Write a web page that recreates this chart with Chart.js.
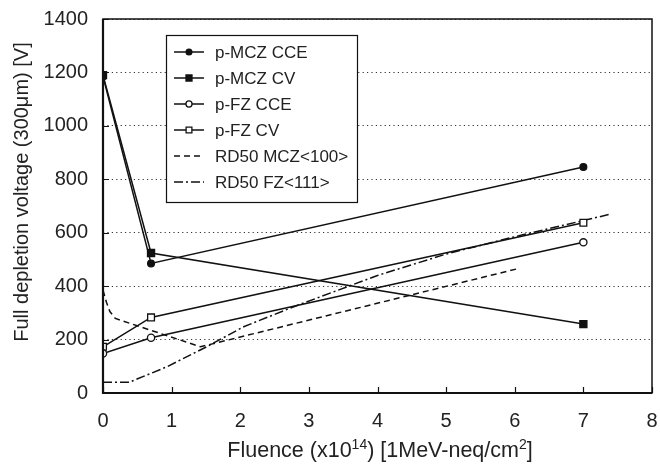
<!DOCTYPE html>
<html>
<head>
<meta charset="utf-8">
<script src="https://cdn.jsdelivr.net/npm/chart.js@4.4.1/dist/chart.umd.min.js"></script>
<style>
  html, body { margin: 0; padding: 0; background: #fff; }
  #wrap { width: 660px; height: 465px; }
</style>
</head>
<body>
<div id="wrap"><canvas id="chart" width="660" height="465"></canvas></div>
<script>
// Data
const fluence = [0, 0.7, 7];
const mczCce = [1185, 485, 846];
const mczCv = [1190, 524, 258];
const fzCce = [148, 207, 564];
const fzCv = [173, 283, 637];

const rd50MczX = [0, 0.05, 0.1, 0.18, 1.42, 6.04];
const rd50MczY = [385, 340, 305, 279, 173, 465];
const rd50FzX = [0, 0.38, 0.93, 1.51, 2.05, 2.8, 4.0, 5.0, 6.0, 7.37];
const rd50FzY = [40, 40, 98, 173, 248, 325, 440, 520, 585, 668];

const xTicks = [0, 1, 2, 3, 4, 5, 6, 7, 8];
const yTicks = [0, 200, 400, 600, 800, 1000, 1200, 1400];

const seriesNames = ['p-MCZ CCE', 'p-MCZ CV', 'p-FZ CCE', 'p-FZ CV', 'RD50 MCZ<100>', 'RD50 FZ<111>'];

const FONT = '"Liberation Sans", Arial, sans-serif';

function pts(xs, ys) {
  return xs.map((x, i) => ({ x: x, y: ys[i] }));
}

const datasets = [
  { label: seriesNames[0], data: pts(fluence, mczCce), pointStyle: 'circle', pointRadius: 3.4, backgroundColor: '#111', borderColor: '#111' },
  { label: seriesNames[1], data: pts(fluence, mczCv), pointStyle: 'rect', pointRadius: 5, backgroundColor: '#111', borderColor: '#111' },
  { label: seriesNames[2], data: pts(fluence, fzCce), pointStyle: 'circle', pointRadius: 3.6, backgroundColor: '#fff', borderColor: '#111' },
  { label: seriesNames[3], data: pts(fluence, fzCv), pointStyle: 'rect', pointRadius: 4.8, backgroundColor: '#fff', borderColor: '#111' },
  { label: seriesNames[4], data: pts(rd50MczX, rd50MczY), pointRadius: 0, borderDash: [6, 4], borderColor: '#111' },
  { label: seriesNames[5], data: pts(rd50FzX, rd50FzY), pointRadius: 0, borderDash: [9, 3, 2, 3], borderColor: '#111' }
].map(d => Object.assign({
  borderWidth: 1.5,
  pointBorderWidth: 1.3,
  showLine: true,
  fill: false,
  tension: 0
}, d));

// frame, inward ticks, axis titles, legend box
const decor = {
  id: 'decor',
  beforeDatasetsDraw(chart) {
    const { ctx, chartArea: a, scales } = chart;
    ctx.save();
    ctx.strokeStyle = '#111';
    ctx.lineWidth = 1.2;
    ctx.beginPath();
    xTicks.forEach(v => {
      const px = Math.round(scales.x.getPixelForValue(v)) + 0.5;
      ctx.moveTo(px, a.bottom);
      ctx.lineTo(px, a.bottom - 6);
    });
    yTicks.forEach(v => {
      const py = Math.round(scales.y.getPixelForValue(v)) + 0.5;
      ctx.moveTo(a.left, py);
      ctx.lineTo(a.left + 6, py);
    });
    ctx.stroke();
    ctx.restore();
  },
  afterDraw(chart) {
    const { ctx, chartArea: a } = chart;
    ctx.save();
    // frame
    ctx.strokeStyle = '#111';
    ctx.lineWidth = 1.5;
    ctx.strokeRect(a.left, a.top, a.right - a.left, a.bottom - a.top);
    ctx.lineWidth = 2.2;
    ctx.beginPath();
    ctx.moveTo(a.left, a.top);
    ctx.lineTo(a.left, a.bottom);
    ctx.lineTo(a.right, a.bottom);
    ctx.stroke();

    // y title
    ctx.fillStyle = '#222';
    ctx.font = '20px ' + FONT;
    ctx.textAlign = 'center';
    ctx.textBaseline = 'middle';
    ctx.save();
    ctx.translate(22, 192);
    ctx.rotate(-Math.PI / 2);
    ctx.fillText('Full depletion voltage (300\u03BCm) [V]', 0, 0);
    ctx.restore();

    // x title with superscripts
    const parts = [
      ['Fluence (x10', false], ['14', true], [') [1MeV-neq/cm', false], ['2', true], [']', false]
    ];
    const big = '21.5px ' + FONT, small = '14px ' + FONT;
    let total = 0;
    parts.forEach(p => { ctx.font = p[1] ? small : big; total += ctx.measureText(p[0]).width; });
    let x = 380 - total / 2;
    const base = 457;
    ctx.textAlign = 'left';
    ctx.textBaseline = 'alphabetic';
    parts.forEach(p => {
      ctx.font = p[1] ? small : big;
      ctx.fillText(p[0], x, p[1] ? base - 8 : base);
      x += ctx.measureText(p[0]).width;
    });

    // legend
    const lx = 166, ly = 35, lw = 191, lh = 167;
    ctx.fillStyle = '#fff';
    ctx.fillRect(lx, ly, lw, lh);
    ctx.strokeStyle = '#111';
    ctx.lineWidth = 1.2;
    ctx.strokeRect(lx + 0.5, ly + 0.5, lw, lh);
    chart.data.datasets.forEach((d, i) => {
      const y = 52 + i * 26;
      ctx.strokeStyle = '#111';
      ctx.lineWidth = d.borderWidth;
      ctx.setLineDash(d.borderDash || []);
      ctx.beginPath();
      ctx.moveTo(174, y);
      ctx.lineTo(204, y);
      ctx.stroke();
      ctx.setLineDash([]);
      if (d.pointRadius > 0) {
        ctx.fillStyle = d.backgroundColor;
        ctx.lineWidth = d.pointBorderWidth;
        Chart.helpers.drawPoint(ctx, { pointStyle: d.pointStyle, radius: d.pointRadius * 0.85, borderWidth: d.pointBorderWidth }, 189, y);
      }
      ctx.fillStyle = '#222';
      ctx.font = '17px ' + FONT;
      ctx.textAlign = 'left';
      ctx.textBaseline = 'middle';
      ctx.fillText(d.label, 215, y + 1);
    });
    ctx.restore();
  }
};

new Chart(document.getElementById('chart'), {
  type: 'scatter',
  data: { datasets: datasets },
  plugins: [decor],
  options: {
    responsive: false,
    animation: false,
    layout: { padding: { left: 0, top: 19, right: 8, bottom: 0 } },
    plugins: { legend: { display: false }, tooltip: { enabled: false } },
    scales: {
      x: {
        type: 'linear', min: 0, max: 8,
        afterFit: s => { s.height = 72; s.paddingLeft = 0; s.paddingRight = 0; },
        afterBuildTicks: s => { s.ticks = xTicks.map(v => ({ value: v })); },
        grid: { display: false, drawTicks: false },
        border: { display: false },
        ticks: { padding: 16, color: '#222', font: { family: FONT, size: 20 }, callback: v => String(v) }
      },
      y: {
        type: 'linear', min: 0, max: 1400,
        afterFit: s => { s.width = 103; s.paddingTop = 0; s.paddingBottom = 0; },
        afterBuildTicks: s => { s.ticks = yTicks.map(v => ({ value: v })); },
        grid: { color: '#333', lineWidth: 1, drawTicks: false },
        border: { display: false, dash: [1.2, 3.2] },
        ticks: { padding: 15, color: '#222', font: { family: FONT, size: 20 }, callback: v => String(v) }
      }
    }
  }
});
</script>
</body>
</html>
